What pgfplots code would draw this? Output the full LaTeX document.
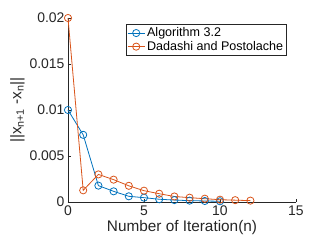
\documentclass[border=0pt]{standalone}
\usepackage{fontspec}
\setmainfont{Liberation Sans}
\usepackage{pgfplots}
\pgfplotsset{compat=1.18}
\definecolor{mblue}{rgb}{0,0.447,0.741}
\definecolor{morange}{rgb}{0.85,0.325,0.098}
\definecolor{maxis}{rgb}{0.15,0.15,0.15}
\begin{document}
\begin{tikzpicture}
\begin{axis}[
  scale only axis,
  width=228bp, height=184bp,
  xmin=0, xmax=15, ymin=0, ymax=0.02,
  axis x line*=bottom, axis y line*=left,
  axis line style={maxis, line width=0.5pt},
  xtick={0,5,10,15},
  ytick={0,0.005,0.01,0.015,0.02},
  yticklabels={0,0.005,0.01,0.015,0.02},
  scaled y ticks=false,
  tick align=inside,
  major tick length=3bp,
  tick style={maxis},
  ticklabel style={font=\fontsize{14}{16}\selectfont, text=maxis},
  /pgf/number format/assume math mode=true,
  xlabel={Number of Iteration(n)},
  ylabel={\textbar\textbar x\textsubscript{n+1} -x\textsubscript{n}\textbar\textbar},
  label style={font=\fontsize{15.4}{17}\selectfont, text=maxis},
  xlabel style={yshift=2bp},
  ylabel style={yshift=-2bp},
  legend style={at={(0.96,0.967)}, anchor=north east, font=\fontsize{12.6}{14}\selectfont, draw=maxis, text=black, inner sep=1.5bp, row sep=-1bp},
  legend cell align=left,
  clip=false,
]
\coordinate (o) at (rel axis cs:0,0);
\addplot[mblue, line width=0.8pt, mark=o, mark size=3.6bp, mark options={line width=0.8pt}] coordinates {
(0,0.0100) (1,0.0073) (2,0.00178) (3,0.00116) (4,0.00062) (5,0.00047) (6,0.00030) (7,0.00021) (8,0.00015) (9,0.00011) (10,0.00008)
};
\addlegendentry{Algorithm 3.2}
\addplot[morange, line width=0.8pt, mark=o, mark size=3.6bp, mark options={line width=0.8pt}] coordinates {
(0,0.0200) (1,0.00127) (2,0.00300) (3,0.00243) (4,0.00176) (5,0.00123) (6,0.00090) (7,0.00060) (8,0.00047) (9,0.00036) (10,0.00025) (11,0.00020) (12,0.00015)
};
\addlegendentry{Dadashi and Postolache}
\end{axis}
\pgfresetboundingbox
\path (o) ++(-68bp,-43bp) rectangle ++(327bp,245bp);
\end{tikzpicture}
\end{document}
